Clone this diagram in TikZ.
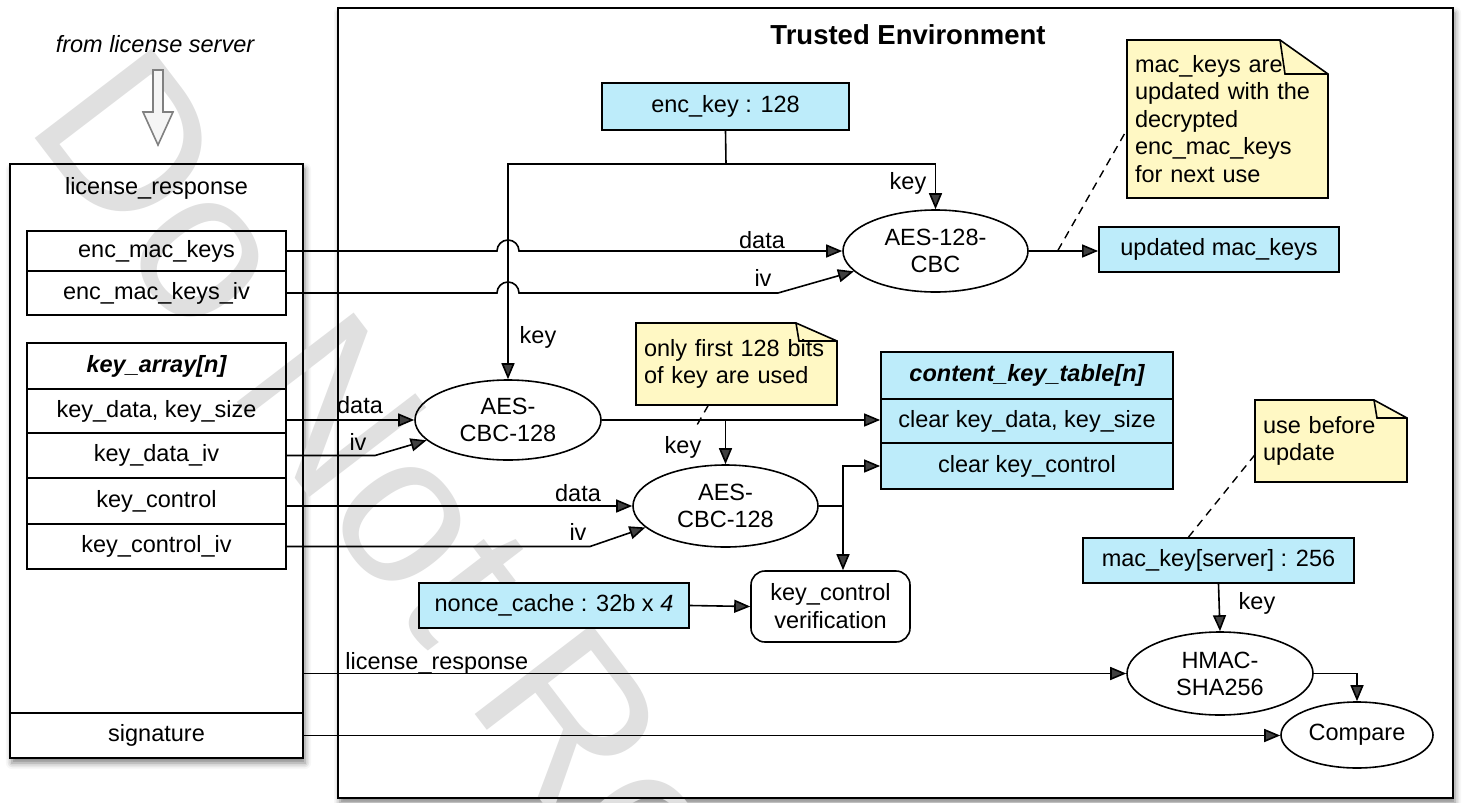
\documentclass[tikz,border=0pt]{standalone}
\usepackage{fontspec}
\setmainfont{Liberation Sans}
\usetikzlibrary{arrows.meta,shapes.geometric,shadows.blur,calc}

\definecolor{keyblue}{RGB}{189,236,250}
\definecolor{noteyellow}{RGB}{255,248,196}

\begin{document}
\begin{tikzpicture}[x=0.5pt, y=-0.5pt,
    every node/.style={font=\fontsize{11.75}{14}\selectfont, inner sep=0pt},
    field/.style={draw, line width=0.9pt, minimum width=129.5pt},
    keybox/.style={draw, line width=0.9pt, fill=keyblue},
    cipher/.style={draw, ellipse, line width=0.8pt, align=center, font=\fontsize{11.75}{13.5}\selectfont},
    wire/.style={line width=0.8pt},
    link/.style={line width=0.8pt, -{Triangle[length=8pt,width=6.5pt]}},
    leader/.style={line width=0.7pt, dash pattern=on 4pt off 3pt},
    notebox/.style={draw, line width=0.8pt, fill=noteyellow},
    notetext/.style={align=left, inner xsep=4pt, font=\fontsize{11.75}{13.75}\selectfont},
    frame/.style={draw, line width=1pt},
    plate/.style={fill=white, blur shadow={shadow xshift=1pt, shadow yshift=-2.5pt, shadow blur radius=3pt, shadow opacity=50}}]

    \useasboundingbox (0,0) rectangle (1462,803);

    \path[plate] (338,8) rectangle (1453,798);
    \path[plate] (10,164) rectangle (303,758);

    \begin{scope}
        \clip (0,0) rectangle (1462,803);
        \node[anchor=base west, rotate=-52.6, text=black!12, font=\fontsize{107}{107}\selectfont] (wmark) at (24,124) {Do Not Redistribute};
    \end{scope}

    \node[frame, minimum width=557.5pt, minimum height=395pt] (tee) at (895.5,403) {};
    \node[font=\bfseries\fontsize{13.75}{16}\selectfont] (teetitle) at (908,35) {Trusted Environment};

    \node[font=\itshape\fontsize{11.75}{14}\selectfont] (src) at (155,44) {from license server};
    \draw[line width=0.8pt, draw=black!50, fill=black!4] (153,70) -- (163,70) -- (163,112) -- (173,112) -- (158,145) -- (143,112) -- (153,112) -- cycle;

    \node[frame, minimum width=146.5pt, minimum height=297pt] (resp) at (156.5,461) {};
    \node (resptitle) at (156.5,188) {license\_response};
    \node[field, minimum height=20pt] (ema) at (156.5,251) {enc\_mac\_keys};
    \node[field, minimum height=22pt] (emaiv) at (156.5,293) {enc\_mac\_keys\_iv};
    \node[field, minimum height=23pt, font=\bfseries\itshape\fontsize{11.75}{14}\selectfont] (karr) at (156.5,366) {key\_array[n]};
    \node[field, minimum height=22pt] (kdata) at (156.5,411) {key\_data, key\_size};
    \node[field, minimum height=22.5pt] (kdiv) at (156.5,455.5) {key\_data\_iv};
    \node[field, minimum height=23pt] (kctl) at (156.5,501) {key\_control};
    \node[field, minimum height=22.5pt] (kctliv) at (156.5,546.5) {key\_control\_iv};
    \node[field, minimum width=146.5pt, minimum height=22.5pt] (sig) at (156.5,735.5) {signature};

    \node[keybox, minimum width=123.5pt, minimum height=23.5pt] (enckey) at (725.5,106.5) {enc\_key : 128};
    \node[cipher, minimum width=92.5pt, minimum height=41pt] (aesA) at (935.5,251) {AES-128-\\CBC};
    \node[keybox, minimum width=120pt, minimum height=22.5pt] (updmk) at (1219,249.5) {updated mac\_keys};
    \node[cipher, minimum width=93pt, minimum height=40pt] (aes1) at (508,420) {AES-\\CBC-128};
    \node[cipher, minimum width=92.5pt, minimum height=41pt] (aes2) at (725.5,506) {AES-\\CBC-128};
    \node[keybox, minimum width=146pt, minimum height=23.5pt, font=\bfseries\itshape\fontsize{11.75}{14}\selectfont] (ckth) at (1027,375.5) {content\_key\_table[n]};
    \node[keybox, minimum width=146pt, minimum height=22pt] (ckt1) at (1027,421) {clear key\_data, key\_size};
    \node[keybox, minimum width=146pt, minimum height=23pt] (ckt2) at (1027,466) {clear key\_control};
    \node[keybox, minimum width=135pt, minimum height=22.5pt] (nonce) at (554,605.5) {nonce\_cache : 32b x \textit{4}};
    \node[draw, line width=0.8pt, rounded corners=7pt, align=center, minimum width=79.5pt, minimum height=35.5pt] (kcv) at (830.5,606.5) {key\_control\\verification};
    \node[keybox, minimum width=135.5pt, minimum height=22.5pt] (mack) at (1218.5,560.5) {mac\_key[server] : 256};
    \node[cipher, minimum width=93pt, minimum height=41.5pt] (hmac) at (1220,673.5) {HMAC-\\SHA256};
    \node[cipher, minimum width=76pt, minimum height=33pt] (cmp) at (1357,735) {Compare};

    \path[notebox] (1127,40) -- (1280,40) -- (1328,74) -- (1328,198) -- (1127,198) -- cycle;
    \draw[line width=0.8pt] (1280,40) -- (1285,74) -- (1328,74);
    \node[notetext, text width=92.5pt, minimum height=79pt] (noteA) at (1227.5,119) {mac\_keys are\\updated with the\\decrypted\\enc\_mac\_keys\\for next use};
    \path[notebox] (636,323) -- (796,323) -- (837,341) -- (837,405) -- (636,405) -- cycle;
    \draw[line width=0.8pt] (796,323) -- (799,341) -- (837,341);
    \node[notetext, text width=92.5pt, minimum height=41pt] (noteB) at (736.5,364) {only first 128 bits\\of key are used};
    \path[notebox] (1255,400) -- (1374,400) -- (1407,418) -- (1407,482) -- (1255,482) -- cycle;
    \draw[line width=0.8pt] (1374,400) -- (1377,418) -- (1407,418);
    \node[notetext, text width=68pt, minimum height=41pt] (noteC) at (1331,441) {use before\\update};

    \coordinate (kj) at (726,164);
    \draw[wire] (enckey.south) -- (kj);
    \draw[link] (kj) -| (aesA.north);
    \draw[link] (kj) -| (aes1.north);
    \draw[link] (ema.east) -- (497,251) arc[start angle=180, end angle=0, radius=5.5pt] -- (aesA.west);
    \draw[link] (emaiv.east) -- (497,293) arc[start angle=180, end angle=0, radius=5.5pt] -- (778,293) -- (aesA.194);
    \draw[link] (aesA.east) -- (aesA.east -| updmk.west);

    \draw[link] (kdata.east |- aes1.west) -- (aes1.west);
    \draw[link] (kdiv.east) -- (375,455.5) -- (aes1.194);
    \draw[link] (aes1.east) -- (aes1.east -| ckt1.west);
    \coordinate (kb) at (aes2.north |- aes1.east);
    \draw[link] (kb) -- (aes2.north);

    \draw[link] (kctl.east |- aes2.west) -- (aes2.west);
    \draw[link] (kctliv.east) -- (590,546.5) -- (aes2.195);
    \coordinate (j2) at (843,506);
    \draw[wire] (aes2.east) -- (j2);
    \draw[link] (j2) |- (ckt2.west);
    \draw[link] (j2) -- (j2 |- kcv.north);
    \draw[link] (nonce.east) -- (kcv.west);

    \draw[link] (mack.south) -- (hmac.north);
    \draw[link] (resp.east |- hmac.west) -- (hmac.west);
    \draw[link] (hmac.east) -| (cmp.north);
    \draw[link] (sig.east) -- (sig.east -| cmp.west);

    \coordinate (tA) at ($(aesA.east)!0.42!(updmk.west)$);
    \draw[leader] (tA) -- ($(noteA.north west)!0.57!(noteA.south west)$);
    \coordinate (tB) at (697,425);
    \draw[leader] ($(noteB.south west)!0.36!(noteB.south east)$) -- (tB);
    \coordinate (tC) at ($(mack.north west)!0.39!(mack.north east)$);
    \draw[leader] (tC) -- ($(noteC.north west)!0.67!(noteC.south west)$);

    \node (kAlbl) at (908,183) {key};
    \node (dAlbl) at (762,240) {data};
    \node (vAlbl) at (763,278) {iv};
    \node (k1lbl) at (538,337) {key};
    \node (d1lbl) at (360,405) {data};
    \node (v1lbl) at (358,442) {iv};
    \node (k2lbl) at (683,447) {key};
    \node (d2lbl) at (578,493) {data};
    \node (v2lbl) at (578,532) {iv};
    \node (khlbl) at (1257,603) {key};
    \node[anchor=west] (rlbl) at (345,663) {license\_response};

\end{tikzpicture}
\end{document}
